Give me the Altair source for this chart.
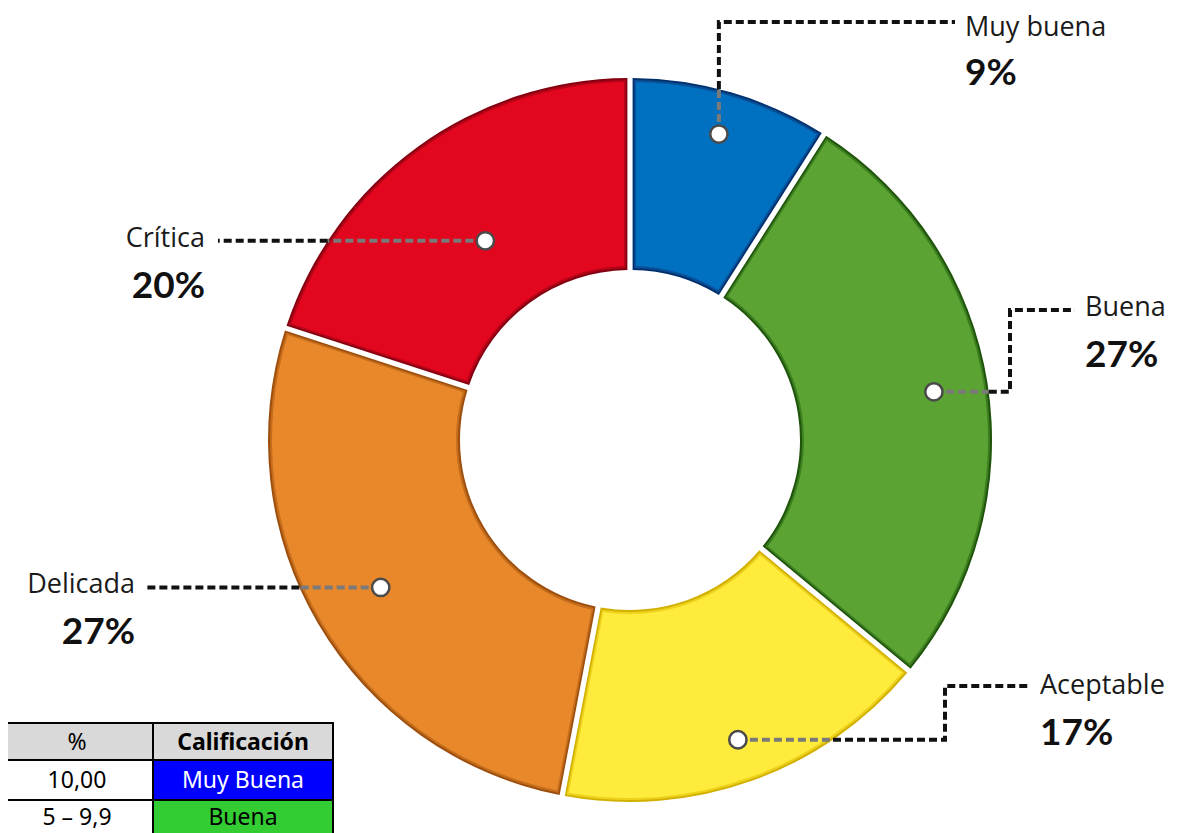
import math
import altair as alt
import pandas as pd

# ---------------- data ----------------
categories = ["Muy buena", "Buena", "Aceptable", "Delicada", "Crítica"]
percentages = [9, 27, 17, 27, 20]
fill_colors = ["#0070C0", "#5BA332", "#FFEB3B", "#E8882A", "#E2061F"]
mid_colors = ["#0A4F96", "#3C7E20", "#EDD21C", "#C46D1C", "#B50418"]
edge_colors = ["#00306E", "#1E540A", "#D2B000", "#9E4E0C", "#850010"]

table_header = ["%", "Calificación"]
table_range = ["10,00", "5 – 9,9"]
table_grade = ["Muy Buena", "Buena"]
table_grade_colors = ["#0000FF", "#33CC33"]
table_grade_text = ["white", "black"]

# ---------------- layout ----------------
W, H = 1170, 825
M = 8                      # page margin (image px -> chart px)
CX, CY = 630 - M, 440 - M  # donut centre
R_OUT, R_IN = 362, 170
FONT = "Open Sans"
PFONT = "Lato"

# callout layout in image pixel coordinates; None = take from the dot
callouts = {
    "Muy buena": dict(frac=0.88, path=[(None, 22), (955, 22)], tx=965, ty=28, side="right"),
    "Buena": dict(frac=0.85, path=[(1010, None), (1010, 310), (1075, 310)], tx=1085, ty=308, side="right"),
    "Aceptable": dict(frac=0.88, path=[(945, None), (945, 686), (1028, 686)], tx=1040, ty=686, side="right"),
    "Delicada": dict(frac=0.80, path=[(145, None)], tx=135, ty=None, side="left"),
    "Crítica": dict(frac=0.68, path=[(218, None)], tx=205, ty=None, side="left"),
}

total = float(sum(percentages))
arc_df = pd.DataFrame({"cat": categories, "val": percentages, "idx": list(range(len(categories)))})

dots, lines, labels = [], [], []
cum = 0.0
for i, (cat, v) in enumerate(zip(categories, percentages)):
    a = 2 * math.pi * (cum + v / 2) / total
    cum += v
    c = callouts[cat]
    r = c["frac"] * R_OUT
    dx_, dy_ = CX + r * math.sin(a), CY - r * math.cos(a)
    dots.append({"cat": cat, "x": dx_, "y": dy_})
    pts = [(dx_, dy_)]
    for px, py in c["path"]:
        px = dx_ if px is None else px - M
        py = dy_ if py is None else py - M
        pts.append((px, py))
    # split first segment where it leaves the outer ring (grey inside, black outside)
    (x0, y0), (x1, y1) = pts[0], pts[1]
    if abs(y1 - y0) < 1e-6:
        h = math.sqrt(max(R_OUT ** 2 - (y0 - CY) ** 2, 0))
        xc = CX + h if x1 > x0 else CX - h
        cross = (xc, y0)
    else:
        h = math.sqrt(max(R_OUT ** 2 - (x0 - CX) ** 2, 0))
        yc = CY - h if y1 < y0 else CY + h
        cross = (x0, yc)
    grey = [pts[0], cross]
    black = [cross] + pts[1:]
    for k, (px, py) in enumerate(grey):
        lines.append({"seg": f"{cat}-g", "ord": k, "x": px, "y": py, "kind": "g"})
    for k, (px, py) in enumerate(black):
        lines.append({"seg": f"{cat}-b", "ord": k, "x": px, "y": py, "kind": "b"})
    ty = (dy_ - 2) if c["ty"] is None else c["ty"] - M
    labels.append({"side": c["side"], "x": c["tx"] - M, "y": ty, "name": cat,
                   "pct": f"{v}%", "py": ty + (46 if cat == "Muy buena" else 48)})

dots_df = pd.DataFrame(dots)
lines_df = pd.DataFrame(lines)
labels_df = pd.DataFrame(labels)

# table geometry (image px)
col_x = [-5, 153, 333]
row_y = [723, 760, 800, 842]
cells, texts = [], []
rows = [[table_header[0], table_header[1]]] + [[a, b] for a, b in zip(table_range, table_grade)]
for ri, row in enumerate(rows):
    for ci, txt in enumerate(row):
        if ri == 0:
            fill, tcol, bold = "#D9D9D9", "black", ci == 1
        elif ci == 1:
            fill, tcol, bold = table_grade_colors[ri - 1], table_grade_text[ri - 1], False
        else:
            fill, tcol, bold = "white", "black", False
        cells.append({"x": col_x[ci] - M, "x2": col_x[ci + 1] - M,
                      "y": row_y[ri] - M, "y2": row_y[ri + 1] - M, "fill": fill})
        texts.append({"x": (col_x[ci] + col_x[ci + 1]) / 2 - M if ci == 1 else 77 - M,
                      "y": (row_y[ri] + min(row_y[ri + 1], 840)) / 2 - M + (1 if ri < 2 else -2),
                      "t": txt, "c": tcol, "b": "bold" if bold else "normal"})
cells_df = pd.DataFrame(cells)
texts_df = pd.DataFrame(texts)

XS = alt.Scale(domain=[0, W], range=[0, W], nice=False, zero=False)
YS = alt.Scale(domain=[H, 0], nice=False, zero=False)
X = lambda f: alt.X(f"{f}:Q", scale=XS, axis=None)
Y = lambda f: alt.Y(f"{f}:Q", scale=YS, axis=None)

base_arc = alt.Chart(arc_df)
arc_enc = dict(
    theta=alt.Theta("val:Q", stack=True),
    order=alt.Order("idx:Q", sort="ascending"),
    x=alt.value(CX), y=alt.value(CY),
)

def ring(inset, pad, colors):
    return base_arc.mark_arc(radius=R_OUT - inset, radius2=R_IN + inset, padAngle=pad).encode(
        fill=alt.Fill("cat:N", scale=alt.Scale(domain=categories, range=colors), legend=None),
        **arc_enc)

arc_dark = ring(0, 0.013, edge_colors)
arc_mid = ring(2, 0.0215, mid_colors)
arc_main = ring(4, 0.030, fill_colors)

lines_g = alt.Chart(lines_df).transform_filter("datum.kind == 'g'").mark_line(
    color="#7a7a7a", strokeWidth=4, strokeDash=[8, 4]).encode(
    x=X("x"), y=Y("y"), detail="seg:N", order="ord:Q")
lines_b = alt.Chart(lines_df).transform_filter("datum.kind == 'b'").mark_line(
    color="#111111", strokeWidth=4, strokeDash=[8, 4]).encode(
    x=X("x"), y=Y("y"), detail="seg:N", order="ord:Q")
dot_layer = alt.Chart(dots_df).mark_circle(
    fill="white", stroke="#4a4a4a", strokeWidth=2.5, size=300, opacity=1).encode(
    x=X("x"), y=Y("y"))

def label_layers(side, align):
    d = alt.Chart(labels_df).transform_filter(f"datum.side == '{side}'")
    name = d.mark_text(align=align, baseline="middle", font=FONT, fontSize=27, color="#1a1a1a").encode(
        x=X("x"), y=Y("y"), text="name:N")
    pct = d.mark_text(align=align, baseline="middle", font=PFONT, fontSize=37, fontWeight="bold",
                      color="#111111").encode(x=X("x"), y=Y("py"), text="pct:N")
    return [name, pct]

table_rects = alt.Chart(cells_df).mark_rect(stroke="black", strokeWidth=2).encode(
    x=X("x"), x2="x2:Q", y=Y("y"), y2="y2:Q",
    fill=alt.Fill("fill:N", scale=None))
table_text_n = alt.Chart(texts_df).transform_filter("datum.b == 'normal'").mark_text(
    align="center", baseline="middle", font="Noto Sans", fontSize=23).encode(
    x=X("x"), y=Y("y"), text="t:N", color=alt.Color("c:N", scale=None))
table_text_b = alt.Chart(texts_df).transform_filter("datum.b == 'bold'").mark_text(
    align="center", baseline="middle", font="Noto Sans", fontSize=23, fontWeight="bold").encode(
    x=X("x"), y=Y("y"), text="t:N", color=alt.Color("c:N", scale=None))

chart = alt.layer(
    arc_dark, arc_mid, arc_main, lines_g, lines_b, dot_layer,
    *label_layers("right", "left"), *label_layers("left", "right"),
    table_rects, table_text_n, table_text_b,
).resolve_scale(fill="independent", color="independent").properties(
    width=W, height=H, autosize="none", padding=0,
).configure(background="white", view=alt.ViewConfig(stroke=None, strokeWidth=0))

chart.save("out.html", embed_options={"renderer": "svg", "actions": False})
